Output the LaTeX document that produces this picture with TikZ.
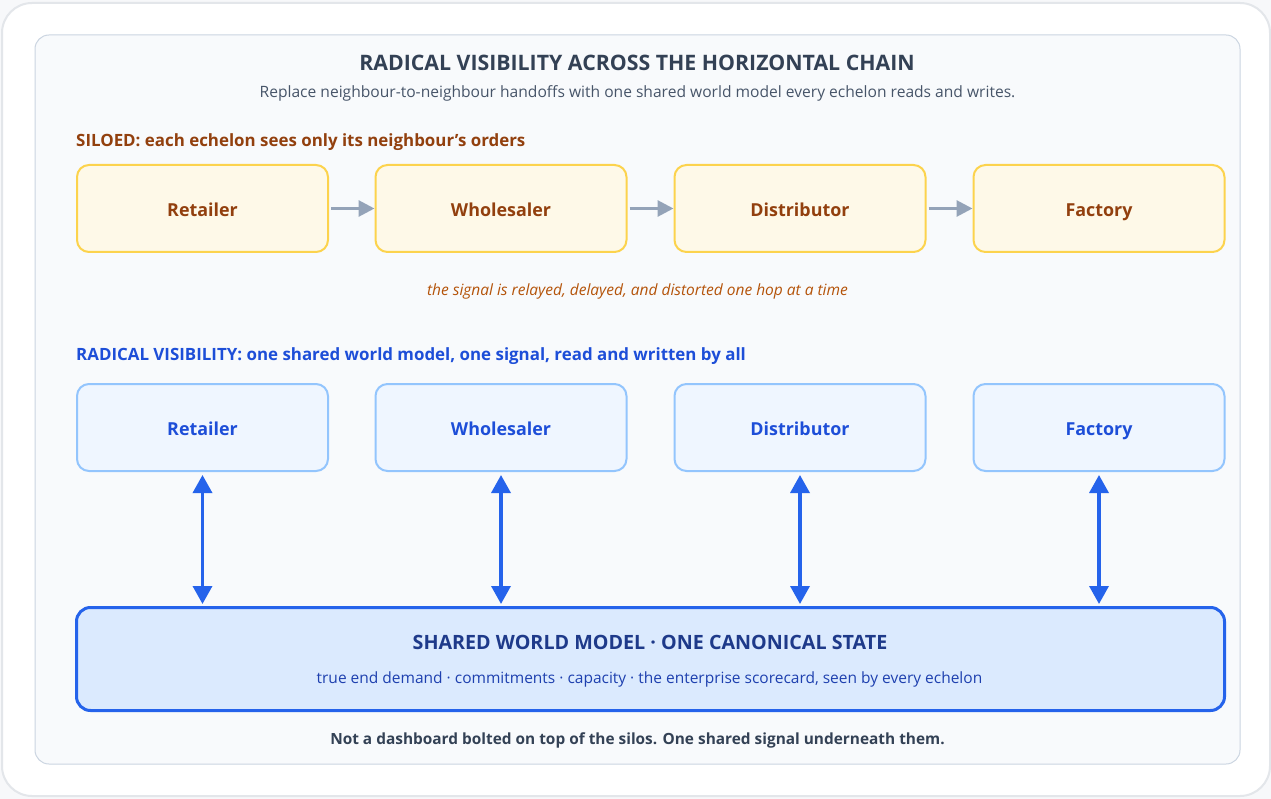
\documentclass[tikz,border=0pt]{standalone}
\usepackage{fontspec}
\setmainfont{Open Sans}
\usetikzlibrary{arrows.meta}

\definecolor{pagebg}{HTML}{F7F8FA}
\definecolor{cardline}{HTML}{E3E6EA}
\definecolor{panelfill}{HTML}{F8FAFC}
\definecolor{panelline}{HTML}{CBD5E1}
\definecolor{titleink}{HTML}{334155}
\definecolor{subink}{HTML}{475569}
\definecolor{siloink}{HTML}{92400E}
\definecolor{silofill}{HTML}{FEF9E8}
\definecolor{siloline}{HTML}{FCD34D}
\definecolor{hopink}{HTML}{B45309}
\definecolor{hoparrow}{HTML}{94A3B8}
\definecolor{visink}{HTML}{1D4ED8}
\definecolor{visfill}{HTML}{EFF6FF}
\definecolor{visline}{HTML}{93C5FD}
\definecolor{linkblue}{HTML}{2563EB}
\definecolor{sharedfill}{HTML}{DBEAFE}
\definecolor{sharedink}{HTML}{1E3A8A}
\definecolor{sharedsub}{HTML}{1E40AF}

\tikzset{
  echelon/.style={rounded corners=12pt, line width=2pt, minimum width=251pt,
    minimum height=87pt, inner sep=0pt, text height=16pt, text depth=0pt,
    font=\fontsize{17.9}{21}\selectfont\bfseries},
  silobox/.style={echelon, draw=siloline, fill=silofill, text=siloink},
  visbox/.style={echelon, draw=visline, fill=visfill, text=visink},
  hop/.style={draw=hoparrow, line width=3pt,
    -{Triangle[length=16pt,width=16pt]}, shorten <=2pt},
  sync/.style={draw=linkblue, line width=3.5pt,
    {Triangle[length=18pt,width=19pt]}-{Triangle[length=18pt,width=19pt]},
    shorten <=3pt, shorten >=2pt},
  caption/.style={anchor=base, inner sep=0pt},
  heading/.style={anchor=base west, inner sep=0pt, font=\fontsize{16.9}{20}\selectfont\bfseries}
}

\begin{document}
\begin{tikzpicture}[x=1pt,y=-1pt]
\useasboundingbox (0,0) rectangle (1271,799);
\fill[pagebg] (0,0) rectangle (1271,799);
% outer card and inner panel
\draw[cardline, fill=white, line width=2pt, rounded corners=30pt] (2,3) rectangle (1270,796);
\draw[panelline, fill=panelfill, line width=1pt, rounded corners=14pt] (35,35) rectangle (1240,764);

% title block
\node[caption, text=titleink, font=\fontsize{21.3}{25}\selectfont\bfseries] (title) at (637,71)
  {RADICAL VISIBILITY ACROSS THE HORIZONTAL CHAIN};
\node[caption, text=subink, font=\fontsize{15.6}{18}\selectfont] (subtitle) at (637.5,97.5)
  {Replace neighbour-to-neighbour handoffs with one shared world model every echelon reads and writes.};

% siloed chain
\node[heading, text=siloink] (siloedlabel) at (76,146.5)
  {SILOED: each echelon sees only its neighbour’s orders};
\node[silobox] (sr) at (202.5,208.5) {Retailer};
\node[silobox] (sw) at (501,208.5) {Wholesaler};
\node[silobox] (sd) at (800,208.5) {Distributor};
\node[silobox] (sf) at (1099,208.5) {Factory};
\draw[hop] (sr) -- (sw);
\draw[hop] (sw) -- (sd);
\draw[hop] (sd) -- (sf);
\node[caption, text=hopink, font=\fontsize{15.5}{18}\selectfont\itshape] (hopnote) at (637.5,295.7)
  {the signal is relayed, delayed, and distorted one hop at a time};

% radical visibility
\node[heading, text=visink] (vislabel) at (76,360.5)
  {RADICAL VISIBILITY: one shared world model, one signal, read and written by all};
\node[visbox] (vr) at (202.5,427.5) {Retailer};
\node[visbox] (vw) at (501,427.5) {Wholesaler};
\node[visbox] (vd) at (800,427.5) {Distributor};
\node[visbox] (vf) at (1099,427.5) {Factory};

\node[draw=linkblue, fill=sharedfill, line width=3pt, rounded corners=14pt,
  minimum width=1148pt, minimum height=103pt, inner sep=0pt] (shared) at (650.5,659) {};
\node[caption, text=sharedink, font=\fontsize{19.7}{23}\selectfont\bfseries] (sharedtitle) at (650,649)
  {SHARED WORLD MODEL · ONE CANONICAL STATE};
\node[caption, text=sharedsub, font=\fontsize{15.5}{18}\selectfont] (sharedsubtitle) at (649.5,683.3)
  {true end demand · commitments · capacity · the enterprise scorecard, seen by every echelon};

\draw[sync] (vr.south) -- (vr.south |- shared.north);
\draw[sync] (vw.south) -- (vw.south |- shared.north);
\draw[sync] (vd.south) -- (vd.south |- shared.north);
\draw[sync] (vf.south) -- (vf.south |- shared.north);

\node[caption, text=titleink, font=\fontsize{15.4}{18}\selectfont\bfseries] (footer) at (637.5,744.5)
  {Not a dashboard bolted on top of the silos. One shared signal underneath them.};
\end{tikzpicture}
\end{document}
